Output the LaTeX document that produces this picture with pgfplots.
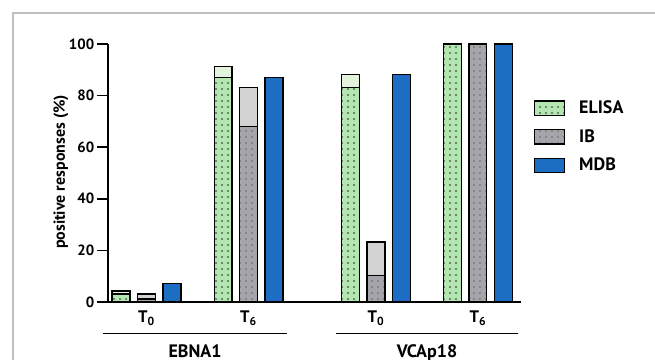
\documentclass[border=0pt]{standalone}
\usepackage{fontspec}
\setmainfont{PT Sans}
\usepackage{pgfplots}
\pgfplotsset{compat=1.18}
\usetikzlibrary{patterns.meta}
\definecolor{elisa}{HTML}{B3E6B0}
\definecolor{elisalt}{HTML}{E3F3DC}
\definecolor{ib}{HTML}{A4A4AA}
\definecolor{iblt}{HTML}{D2D2D2}
\definecolor{mdb}{HTML}{1B6EC2}
\begin{document}
\begin{tikzpicture}[x=0.6pt,y=0.6pt]
\begin{axis}[
  at={(64.8pt,34.2pt)}, anchor=south west,
  scale only axis, width=247.8pt, height=154.8pt,
  xmin=0, xmax=16.2, ymin=0, ymax=100,
  axis x line*=bottom, axis y line*=left,
  axis line style={line width=0.9pt, -},
  xtick=\empty,
  ytick={0,20,40,60,80,100},
  tick align=outside, major tick length=6.6pt,
  tick style={line width=0.9pt, black},
  yticklabel style={font=\fontsize{8.9}{10}\selectfont\bfseries, inner sep=1.5pt},
  /pgf/number format/assume math mode=true,
  clip=false,
  legend style={at={(axis description cs:1.030,0.795)}, anchor=north west, draw=none,
    font=\fontsize{10.8}{12}\selectfont\bfseries, row sep=4pt, inner sep=0pt,
    /tikz/every odd column/.append style={column sep=6.5pt}},
  legend cell align=left,
  legend image code/.code={\draw[#1] (0pt,-4.3pt) rectangle (18pt,4.3pt);},
  every axis plot/.append style={ybar, bar width=0.7, bar shift=0pt, draw=black, line width=0.8pt},
]
% ELISA upper (light) totals
\addplot[fill=elisalt, forget plot] coordinates {(0.51,4.2) (4.52,91.2) (9.51,88.3) (13.52,100)};
% ELISA lower (dotted)
\addplot[fill=elisa, postaction={pattern={Dots[distance=3.6pt, radius=0.5pt]}, pattern color=black!85}]
  coordinates {(0.51,3.1) (4.52,86.9) (9.51,83.2) (13.52,100)};
% IB upper totals
\addplot[fill=iblt, forget plot] coordinates {(1.51,3.1) (5.51,83.2) (10.51,23.3) (14.51,100)};
% IB lower (dotted)
\addplot[fill=ib, postaction={pattern={Dots[distance=3.6pt, radius=0.5pt]}, pattern color=black!60}]
  coordinates {(1.51,1.2) (5.51,67.9) (10.51,10.2) (14.51,100)};
% MDB
\addplot[fill=mdb] coordinates {(2.51,7.2) (6.51,87.1) (11.51,88.3) (15.51,100)};
\legend{ELISA, IB, MDB}
\end{axis}
\node[rotate=90, font=\fontsize{9.6}{11}\selectfont\bfseries] at (61,187) {positive responses (\%)};
\begin{scope}[font=\fontsize{10}{11}\selectfont\bfseries]
\node[anchor=base] at (146.5,36) {T\textsubscript{0}};
\node[anchor=base] at (248.5,36) {T\textsubscript{6}};
\node[anchor=base] at (376,36) {T\textsubscript{0}};
\node[anchor=base] at (478,36) {T\textsubscript{6}};
\end{scope}
\begin{scope}[font=\fontsize{10.8}{12}\selectfont\bfseries]
\node[anchor=base] at (195,1.5) {EBNA1};
\node[anchor=base] at (427,1.5) {VCAp18};
\end{scope}
\draw[line width=0.7pt] (103,25.5) -- (287,25.5);
\draw[line width=0.7pt] (336,25.5) -- (518,25.5);
\draw[black!25, line width=0.8pt] (13,-41) -- (13,346) -- (700,346);
\pgfresetboundingbox
\useasboundingbox (0,0) rectangle (655,359);
\end{tikzpicture}
\end{document}
